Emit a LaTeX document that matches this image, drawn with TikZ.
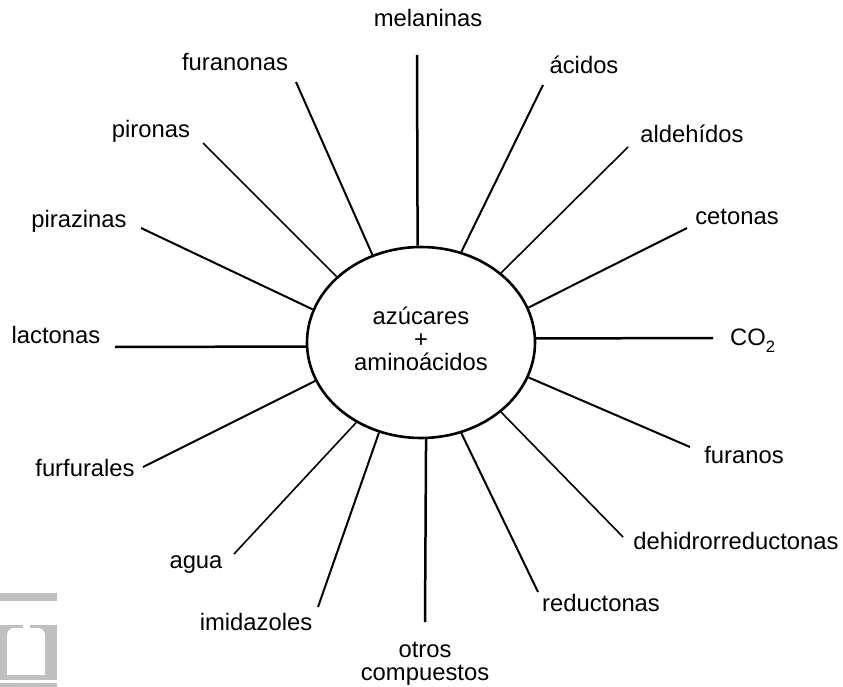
\documentclass[tikz,border=0pt]{standalone}
\usepackage{fontspec}
\setmainfont{Liberation Sans}
\usetikzlibrary{shapes.geometric}
\definecolor{wmgray}{RGB}{192,192,192}
\begin{document}
\begin{tikzpicture}[x=1pt,y=-1pt,
  lbl/.style={font=\fontsize{23.8}{23}\selectfont, inner sep=0pt, text height=17pt, text depth=5pt},
  lbltwo/.style={font=\fontsize{23.8}{23}\selectfont, inner sep=0pt, align=center},
  ray/.style={line width=2pt},
  thinray/.style={line width=1.6pt},
  thickray/.style={line width=2.5pt},
  hub/.style={ellipse, draw, line width=2.6pt, minimum width=228pt, minimum height=191pt, inner sep=0pt}]
\useasboundingbox (0,0) rectangle (843,687);
\fill[white] (0,0) rectangle (843,687);

% faint grey mark, bottom left
\fill[wmgray] (0,593) rectangle (57,601);
\fill[wmgray] (0,625) rectangle (57,687);
\fill[white, rounded corners=7pt] (7,628) rectangle (45,683);
\fill[white] (23,625) rectangle (30,628);
\fill[wmgray] (0,675) rectangle (57,680);
\fill[white] (0,680) rectangle (57,683);

% hub
\node[hub] (c) at (421,342.5) {};
\node[lbltwo] (t) at (421,339) {azúcares\\+\\aminoácidos};

% outer ends
\coordinate (o1) at (417,55);
\coordinate (o2) at (543,85);
\coordinate (o3) at (628,147);
\coordinate (o4) at (687,228);
\coordinate (o5) at (713,338);
\coordinate (o6) at (690,447);
\coordinate (o7) at (623,537);
\coordinate (o8) at (538,592);
\coordinate (o9) at (425,622);
\coordinate (o10) at (318,607);
\coordinate (o11) at (234,554);
\coordinate (o12) at (143,467);
\coordinate (o13) at (115,347);
\coordinate (o14) at (141,228);
\coordinate (o15) at (203,143);
\coordinate (o16) at (296,82);

% labels
\node[lbl] (l1) at (428,21) {melaninas};
\node[lbl] (l2) at (584,68) {ácidos};
\node[lbl] (l3) at (692,137) {aldehídos};
\node[lbl] (l4) at (737,218) {cetonas};
\node[lbl, anchor=west] (l5) at (730,339) {CO\raisebox{-7pt}{\fontsize{16.5}{16.5}\selectfont 2}};
\node[lbl] (l6) at (744,457) {furanos};
\node[lbl] (l7) at (736,543) {dehidrorreductonas};
\node[lbl] (l8) at (601,605) {reductonas};
\node[lbltwo] (l9) at (425,663.5) {otros\\compuestos};
\node[lbl] (l10) at (256,624) {imidazoles};
\node[lbl] (l11) at (196,562) {agua};
\node[lbl] (l12) at (85,470) {furfurales};
\node[lbl] (l13) at (56,337) {lactonas};
\node[lbl] (l14) at (79,222) {pirazinas};
\node[lbl] (l15) at (151,132) {pironas};
\node[lbl] (l16) at (235,65) {furanonas};

% rays
\draw[thickray] (c.92.4) -- (o1);
\draw[ray] (c.66.7) -- (o2);
\draw[thinray] (c.41.5) -- (o3);
\draw[ray] (c.18.4) -- (o4);
\draw[thickray] (c.2.3) -- (o5);
\draw[ray] (c.-18.8) -- (o6);
\draw[thinray] (c.-41.8) -- (o7);
\draw[ray] (c.-66.9) -- (o8);
\draw[thickray] (c.-87.6) -- (o9);
\draw[ray] (c.245.1) -- (o10);
\draw[thinray] (c.231.8) -- (o11);
\draw[ray] (c.200.9) -- (o12);
\draw[thickray] (c.182.3) -- (o13);
\draw[ray] (c.163.3) -- (o14);
\draw[thinray] (c.142.2) -- (o15);
\draw[ray] (c.119.8) -- (o16);
\end{tikzpicture}
\end{document}
